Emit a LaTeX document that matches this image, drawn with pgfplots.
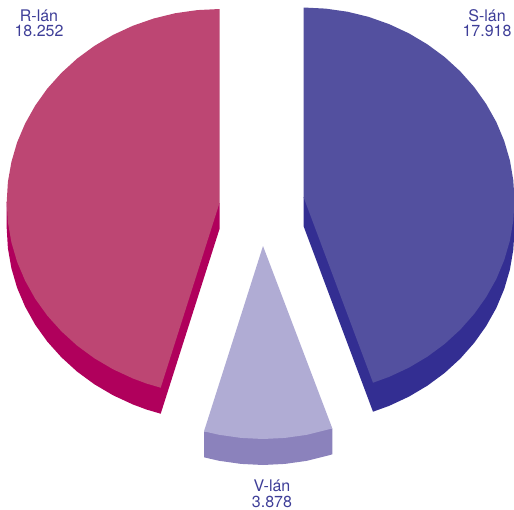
\documentclass[border=0pt]{standalone}
\usepackage{fontspec}
\setmainfont{TeX Gyre Heros}
\usepackage{pgfplots}
\pgfplotsset{compat=1.18}
\definecolor{Rtop}{HTML}{BD4673}
\definecolor{Rside}{HTML}{B0005C}
\definecolor{Stop}{HTML}{53509F}
\definecolor{Sside}{HTML}{332E92}
\definecolor{Vtop}{HTML}{B0ACD4}
\definecolor{Vside}{HTML}{8B82BC}
\definecolor{Lab}{HTML}{3E3E98}
\begin{document}
\begin{tikzpicture}[lab/.style={anchor=base,inner sep=0pt,text=Lab,font=\fontsize{16bp}{16bp}\selectfont}]
\begin{axis}[
  scale only axis,width=514bp,height=510bp,
  xmin=0,xmax=514,ymin=0,ymax=510,y dir=reverse,
  axis lines=none,clip=true]
% sides first, the top faces go over them
\addplot[fill=Sside,draw=none] coordinates {(303.5,197) (303.5,226) (373,411.7) (389.3,405.8) (409,396.6) (427.5,385.6) (444.7,372.9) (460.3,358.6) (474.2,342.9) (486.2,326) (496.3,308) (504.2,289.1) (509.9,269.6) (513.3,249.7) (514.5,229.5) (514.5,200.5)} -- cycle;
\addplot[fill=Rside,draw=none] coordinates {(219.5,203) (219.5,229) (160.7,413.7) (146.7,409.6) (133,404.5) (113.1,395.3) (94.4,384.3) (77.1,371.6) (61.4,357.3) (47.3,341.6) (35.2,324.7) (25.1,306.6) (17.1,287.8) (11.4,268.3) (7.9,248.3) (6.7,228.1) (6.7,202.1)} -- cycle;
\addplot[fill=Vside,draw=none] coordinates {(204,431.3) (204,457.3) (219.1,460.8) (241.1,463.9) (263,465) (285.1,463.9) (306.9,460.8) (328.2,455.5) (332.3,454.3) (332.3,428.3)} -- cycle;
% top faces
\addplot[fill=Stop,draw=none] coordinates {(303.5,197) (303.5,7.5) (325.6,8.6) (347.4,11.7) (368.7,16.9) (389.3,24.2) (409,33.4) (427.5,44.4) (444.7,57.1) (460.3,71.4) (474.2,87.1) (486.2,104) (496.3,122) (504.2,140.9) (509.9,160.4) (513.3,180.3) (514.5,200.5) (513.3,220.7) (509.9,240.6) (504.2,260.1) (496.3,279) (486.2,297) (474.2,313.9) (460.3,329.6) (444.7,343.9) (427.5,356.6) (409,367.6) (389.3,376.8) (373,382.7)} -- cycle;
\addplot[fill=Rtop,draw=none] coordinates {(219.5,203) (219.5,9) (197.3,10.1) (175.3,13.2) (153.7,18.5) (133,25.7) (113.1,34.9) (94.4,45.9) (77.1,58.6) (61.4,72.9) (47.3,88.6) (35.2,105.6) (25.1,123.6) (17.1,142.4) (11.4,162) (7.9,181.9) (6.7,202.1) (7.9,222.3) (11.4,242.3) (17.1,261.8) (25.1,280.6) (35.2,298.7) (47.3,315.6) (61.4,331.3) (77.1,345.6) (94.4,358.3) (113.1,369.3) (133,378.5) (146.7,383.6) (160.7,387.7)} -- cycle;
\addplot[fill=Vtop,draw=none] coordinates {(263,246) (204,431.3) (219.1,434.8) (241.1,437.9) (263,439) (285.1,437.9) (306.9,434.8) (328.2,429.5) (332.3,428.3)} -- cycle;
% labels
\node[lab] at (axis cs:39,21.7) {R-lán};
\node[lab] at (axis cs:39,36.7) {18.252};
\node[lab] at (axis cs:487,21.7) {S-lán};
\node[lab] at (axis cs:487,36.7) {17.918};
\node[lab] at (axis cs:272,491.7) {V-lán};
\node[lab] at (axis cs:272,507.5) {3.878};
\end{axis}
\pgfresetboundingbox
\path[use as bounding box] (0,0) rectangle (514bp,510bp);
\end{tikzpicture}
\end{document}
